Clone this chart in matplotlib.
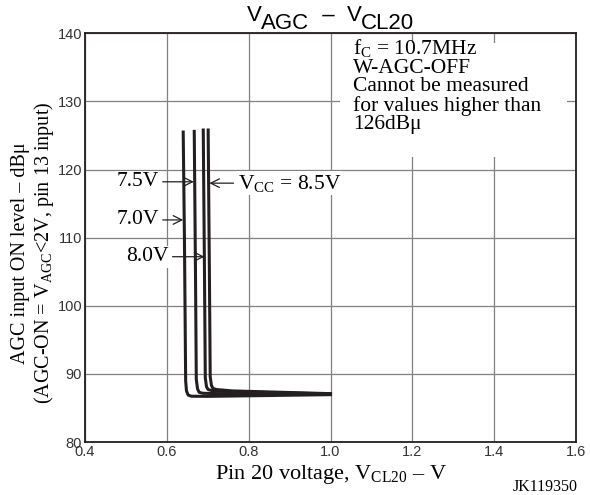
import matplotlib
matplotlib.use("Agg")
import matplotlib.pyplot as plt
from matplotlib.patches import Rectangle

# Datos (V_CL20 en V, nivel AGC en dBμ)
vcc_labels = ["7.0V", "7.5V", "8.0V", "8.5V"]
x_70 = [0.640, 0.643, 0.646, 0.648, 0.652, 0.660, 0.700, 1.000]
y_70 = [125.5, 110.0, 89.0, 87.5, 86.9, 86.72, 86.7, 86.95]
x_75 = [0.667, 0.670, 0.672, 0.675, 0.679, 0.688, 0.730, 1.000]
y_75 = [125.6, 105.0, 89.2, 87.8, 87.3, 87.15, 87.1, 87.0]
x_80 = [0.689, 0.692, 0.694, 0.697, 0.701, 0.710, 0.750, 1.000]
y_80 = [125.8, 105.0, 89.4, 88.1, 87.7, 87.55, 87.4, 87.05]
x_85 = [0.701, 0.704, 0.706, 0.709, 0.713, 0.722, 0.760, 1.000]
y_85 = [125.8, 105.0, 89.6, 88.3, 87.85, 87.7, 87.5, 87.1]

x_ticks = [0.4, 0.6, 0.8, 1.0, 1.2, 1.4, 1.6]
x_ticklabels = ["0.4", "0.6", "0.8", "1.0", "1.2", "1.4", "1.6"]
y_ticks = [80, 90, 100, 110, 120, 130, 140]

# etiquetas con flecha: (texto, punta x, punta y, cola x)
label_70 = ("7.0V", 0.640, 112.6, 0.580)
label_75 = ("7.5V", 0.666, 118.2, 0.580)
label_80 = ("8.0V", 0.692, 107.2, 0.604)
label_85 = (r"V$_{\mathrm{CC}}$ = 8.5V", 0.704, 118.0, 0.773)

cond_text = ("f$_{\\mathrm{C}}$ = 10.7MHz\nW-AGC-OFF\nCannot be measured\n"
             "for values higher than\n126dBμ")

# título en trozos: (texto, bajada en px)
title_parts = [("V", 0), ("AGC", 8), ("  –  V", 0), ("CL20", 8)]

plt.rcParams["mathtext.fontset"] = "custom"
plt.rcParams["mathtext.rm"] = "Liberation Serif"
plt.rcParams["mathtext.sf"] = "Liberation Sans"
plt.rcParams["mathtext.it"] = "Liberation Serif:italic"

serif = "Liberation Serif"
sans = "Liberation Sans"
col = "#231f20"
fs = 15.5

fig = plt.figure(figsize=(5.9, 4.95), dpi=100)
ax = fig.add_axes([85 / 590, 1 - 442 / 495, (576 - 85) / 590, (442 - 33.3) / 495])

for xs, ys in [(x_70, y_70), (x_75, y_75), (x_80, y_80), (x_85, y_85)]:
    ax.plot(xs, ys, color=col, lw=2.2, solid_joinstyle="round", zorder=3)

ax.set_xlim(0.4, 1.6)
ax.set_ylim(80, 140)
ax.set_xticks(x_ticks)
ax.set_xticklabels(x_ticklabels)
ax.set_yticks(y_ticks)
ax.tick_params(length=0, labelsize=10.5, pad=2)
for lab in ax.get_xticklabels() + ax.get_yticklabels():
    lab.set_fontfamily(sans)
    lab.set_color("#333333")
ax.grid(True, color="#808080", lw=0.9)
ax.set_axisbelow(True)
for s in ax.spines.values():
    s.set_linewidth(1.3)
    s.set_color("#231f20")

ax.set_xlabel(r"Pin 20 voltage, V$_{\mathrm{CL20}}$ – V", fontfamily=serif,
              fontsize=16, labelpad=3)
ax.set_ylabel("AGC input ON level – dBμ\n"
              r"(AGC-ON = V$_{\mathrm{AGC}}$<2V, pin 13 input)",
              fontfamily=serif, fontsize=14.5, linespacing=1.1)
ax.yaxis.set_label_coords(-0.06, 0.462)

# cuadro de condiciones (fondo blanco que tapa la rejilla)
ax.add_patch(Rectangle((0.519, 0.697), 0.463, 0.279, transform=ax.transAxes,
                       facecolor="white", edgecolor="none", zorder=1))
ax.text(1.055, 139.4, cond_text, fontfamily=serif, fontsize=fs,
        ha="left", va="top", linespacing=0.96, zorder=4)

for txt, hx, hy, tx in [label_75, label_70, label_80]:
    ax.annotate(txt, xy=(hx, hy), xytext=(tx, hy), ha="right", va="center",
                fontfamily=serif, fontsize=fs,
                bbox=dict(facecolor="white", edgecolor="none", pad=1),
                arrowprops=dict(arrowstyle="->", lw=0.9, color=col,
                                shrinkA=2, shrinkB=0))
txt, hx, hy, tx = label_85
ax.annotate(txt, xy=(hx, hy), xytext=(tx, hy), ha="left", va="center",
            fontfamily=serif, fontsize=fs,
            bbox=dict(facecolor="white", edgecolor="none", pad=1),
            arrowprops=dict(arrowstyle="->", lw=0.9, color=col,
                            shrinkA=2, shrinkB=0))

# título con subíndices de tamaño completo, centrado sobre los ejes
r = fig.canvas.get_renderer()
pieces = []
for s, dy in title_parts:
    t = fig.text(0, 0, s, fontfamily=sans, fontsize=16, transform=None,
                 ha="left", va="baseline")
    pieces.append((t, dy, t.get_window_extent(r).width))
total = sum(w for _, _, w in pieces)
x0 = 330.5 - total / 2
base = 495 - 21
for t, dy, w in pieces:
    t.set_position((x0, base - dy))
    x0 += w

fig.text(578 / 590, 1 - 487 / 495, "JK119350", fontfamily=serif, fontsize=11.5,
         ha="right", va="center")

fig.savefig("out.png", dpi=100)
